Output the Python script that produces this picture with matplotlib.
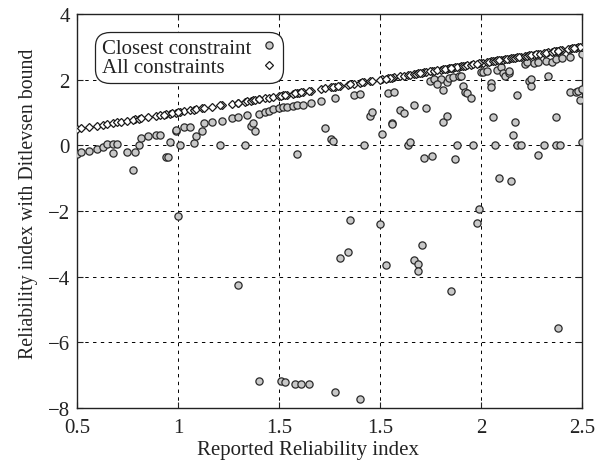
import matplotlib
matplotlib.use("Agg")
import matplotlib.pyplot as plt

# Reliability index with the Ditlevsen bound, closest constraint only
closest_x = [
    0.50, 0.52, 0.56, 0.60, 0.63, 0.65, 0.68, 0.70, 0.68, 0.75,
    0.79, 0.78, 0.81, 0.82, 0.85, 0.89, 0.91, 0.96, 0.94, 0.95,
    0.99, 0.99, 1.01, 1.03, 1.06, 1.08, 1.09, 1.12, 1.13, 1.17,
    1.22, 1.27, 1.30, 1.21, 1.33, 1.34, 1.36, 1.37, 1.38, 1.40,
    1.43, 1.45, 1.47, 1.50, 1.52, 1.54, 1.57, 1.59, 1.62, 1.66,
    1.71, 1.78, 1.59, 1.73, 1.76, 1.77,
    1.87, 1.90, 1.92, 1.95, 1.96, 2.01, 2.04, 2.07, 2.06, 2.06,
    2.10, 2.12, 2.14, 2.15, 2.17, 2.22, 2.26, 2.23, 2.25, 2.27,
    2.30, 2.28, 2.31, 2.33, 2.34, 2.36, 2.39, 2.40, 2.31, 2.33,
    2.37, 2.38, 2.41, 2.42, 2.43, 2.45, 2.46, 2.50, 2.51, 2.53,
    2.55, 2.55, 2.56, 2.57, 2.58, 2.60, 2.61, 2.62, 2.64, 2.64,
    2.59, 2.65, 2.66, 2.67, 2.68, 2.70, 2.68, 2.72, 2.73, 2.76,
    2.78, 2.74, 2.75, 2.75, 2.78, 2.81, 2.83, 2.82, 2.85, 2.87,
    2.90, 2.94, 2.87, 2.87, 2.89, 2.94, 2.97, 2.98, 3.00, 2.99,
    3.00, 3.00,
    1.00, 1.30, 1.80, 1.84, 1.85, 2.00, 2.03, 2.17, 2.19, 2.21,
    2.19, 2.35, 2.49, 2.48, 2.88, 1.40, 1.51, 1.53, 1.58, 1.61,
    1.65, 1.78, 1.90,
]
closest_y = [
    -0.27, -0.22, -0.17, -0.12, -0.06, 0.03, 0.03, 0.03, -0.25, -0.20,
    -0.20, -0.75, 0.00, 0.23, 0.28, 0.31, 0.31, 0.10, -0.37, -0.37,
    0.44, 0.47, 0.00, 0.54, 0.57, 0.06, 0.28, 0.44, 0.67, 0.71,
    0.74, 0.82, 0.85, 0.00, 0.00, 0.92, 0.59, 0.67, 0.44, 0.95,
    1.00, 1.05, 1.10, 1.13, 1.15, 1.16, 1.18, 1.21, 1.22, 1.28,
    1.35, 1.43, -0.27, 0.51, 0.18, 0.13,
    1.53, 1.56, 0.00, 0.89, 1.02, 0.34, 1.59, 1.63, 0.69, 0.64,
    1.08, 0.98, 0.00, 0.10, 1.22, -0.38, -0.33, 1.12, 1.96, 2.02,
    2.02, 1.86, 1.69, 1.91, 2.04, 2.07, 2.10, 2.12, 0.71, 0.89,
    -0.43, 0.00, 1.79, 1.63, 1.59, 1.43, 0.00, 2.24, 2.24, 2.27,
    1.89, 1.76, 0.85, 0.00, 2.30, 2.37, 2.20, 2.12, 2.20, 2.27,
    -0.99, -1.09, 0.31, 0.71, 0.00, 0.00, 1.53, 2.47, 2.53, 2.50,
    2.54, 1.96, 1.79, 2.02, -0.31, 0.00, 2.10, 2.57, 2.53, 2.63,
    2.65, 2.68, 0.85, 0.00, 0.00, 1.63, 1.63, 1.66, 1.71, 1.38,
    0.10, 2.78,
    -2.16, -4.27, -3.43, -3.26, -2.28, -2.40, -3.66, -3.48, -3.63, -3.05,
    -3.82, -4.45, -1.93, -2.36, -5.57, -7.18, -7.17, -7.20, -7.28, -7.28,
    -7.27, -7.50, -7.72,
]

# Reliability index with the Ditlevsen bound, all constraints
all_x = [
    0.50, 0.52, 0.56, 0.60, 0.63, 0.65, 0.68, 0.70, 0.72, 0.75,
    0.79, 0.78, 0.81, 0.82, 0.85, 0.89, 0.91, 0.96, 0.94, 0.93,
    0.99, 0.97, 1.01, 1.03, 1.06, 1.08, 1.09, 1.12, 1.13, 1.17,
    1.22, 1.27, 1.30, 1.21, 1.33, 1.34, 1.36, 1.37, 1.38, 1.40,
    1.43, 1.45, 1.47, 1.50, 1.52, 1.54, 1.57, 1.59, 1.62, 1.66,
    1.71, 1.78, 1.60, 1.73, 1.76, 1.77,
    1.87, 1.90, 1.92, 1.95, 1.96, 2.01, 2.04, 2.07, 2.06, 2.05,
    2.10, 2.12, 2.14, 2.15, 2.17, 2.22, 2.26, 2.23, 2.25, 2.27,
    2.30, 2.28, 2.31, 2.33, 2.34, 2.36, 2.39, 2.40, 2.32, 2.35,
    2.37, 2.38, 2.41, 2.42, 2.43, 2.45, 2.46, 2.50, 2.51, 2.53,
    2.55, 2.54, 2.56, 2.57, 2.58, 2.60, 2.61, 2.62, 2.64, 2.63,
    2.59, 2.65, 2.66, 2.67, 2.68, 2.70, 2.69, 2.72, 2.73, 2.76,
    2.78, 2.74, 2.75, 2.77, 2.79, 2.81, 2.83, 2.82, 2.85, 2.87,
    2.90, 2.94, 2.86, 2.88, 2.89, 2.93, 2.97, 2.98, 3.00, 2.99,
    2.95, 2.96,
    1.00, 1.30, 1.80, 1.84, 1.85, 2.00, 2.03, 2.18, 2.19, 2.21,
    2.20, 2.35, 2.49, 2.48, 2.88, 1.40, 1.51, 1.53, 1.58, 1.61,
    1.65, 1.79, 1.91,
]
all_y = [
    0.50, 0.52, 0.56, 0.60, 0.63, 0.65, 0.68, 0.70, 0.72, 0.75,
    0.79, 0.78, 0.81, 0.82, 0.85, 0.89, 0.91, 0.96, 0.94, 0.93,
    0.99, 0.97, 1.01, 1.03, 1.06, 1.08, 1.09, 1.12, 1.13, 1.17,
    1.22, 1.27, 1.30, 1.21, 1.33, 1.34, 1.36, 1.37, 1.38, 1.40,
    1.43, 1.45, 1.47, 1.50, 1.52, 1.54, 1.57, 1.59, 1.62, 1.66,
    1.71, 1.78, 1.60, 1.73, 1.76, 1.77,
    1.87, 1.90, 1.92, 1.95, 1.96, 2.01, 2.04, 2.07, 2.06, 2.05,
    2.10, 2.12, 2.14, 2.15, 2.17, 2.22, 2.26, 2.23, 2.25, 2.27,
    2.30, 2.28, 2.31, 2.33, 2.34, 2.36, 2.39, 2.40, 2.32, 2.35,
    2.37, 2.38, 2.41, 2.42, 2.43, 2.45, 2.46, 2.50, 2.51, 2.53,
    2.55, 2.54, 2.56, 2.57, 2.58, 2.60, 2.61, 2.62, 2.64, 2.63,
    2.59, 2.65, 2.66, 2.67, 2.68, 2.70, 2.69, 2.72, 2.73, 2.76,
    2.78, 2.74, 2.75, 2.77, 2.79, 2.81, 2.83, 2.82, 2.85, 2.87,
    2.90, 2.94, 2.86, 2.88, 2.89, 2.93, 2.97, 2.98, 3.00, 2.99,
    2.95, 2.96,
    1.00, 1.30, 1.80, 1.84, 1.85, 2.00, 2.03, 2.18, 2.19, 2.21,
    2.20, 2.35, 2.49, 2.48, 2.88, 1.40, 1.51, 1.53, 1.58, 1.61,
    1.65, 1.79, 1.91,
]

x_tick_pos = [0.5, 1.0, 1.5, 2.0, 2.5, 3.0]
x_tick_labels = ["0.5", "1", "1.5", "1.5", "2", "2.5"]
y_ticks = [-8, -6, -4, -2, 0, 2, 4]

plt.rcParams['font.family'] = ['Liberation Serif', 'DejaVu Serif']
text_color = '#222222'

fig = plt.figure(figsize=(6.05, 4.64), dpi=100)
ax = fig.add_axes([0.127, 0.1185, 0.835, 0.8495])

ax.plot(closest_x, closest_y, 'o', ls='none', ms=5.2, mfc='#c8c8c8',
        mec='#2a2a2a', mew=0.9, label='Closest constraint', zorder=3)
ax.plot(all_x, all_y, 'D', ls='none', ms=4.2, mfc='white',
        mec='#1a1a1a', mew=0.9, label='All constraints', zorder=4)

ax.set_xlim(0.5, 3.0)
ax.set_ylim(-8, 4)
ax.set_xticks(x_tick_pos)
ax.set_xticklabels(x_tick_labels)
ax.set_yticks(y_ticks)

ax.grid(True, color='black', lw=0.7, ls=(0, (3.5, 4.5)), zorder=1)
ax.set_axisbelow(True)
ax.tick_params(direction='in', top=True, right=True, length=4, width=0.8,
               labelsize=15, colors='#222222', labelcolor=text_color)
ax.tick_params(axis='x', pad=7)
ax.tick_params(axis='y', pad=5)
for sp in ax.spines.values():
    sp.set_linewidth(1.0)
    sp.set_color('#222222')

ax.set_xlabel('Reported Reliability index', fontsize=15, color=text_color)
ax.set_ylabel('Reliability index with Ditlevsen bound', fontsize=14.3,
              color=text_color)
ax.xaxis.set_label_coords(0.457, -0.081)
ax.yaxis.set_label_coords(-0.076, 0.52)

leg = ax.legend(loc='upper left', bbox_to_anchor=(0.045, 0.944), markerfirst=False,
                fancybox=True, framealpha=1, edgecolor='#222222', fontsize=15,
                handlelength=0.8, handletextpad=0.45, borderpad=0.1,
                labelspacing=0.0, borderaxespad=0)
leg.get_frame().set_linewidth(0.9)
leg.get_frame().set_boxstyle('round,pad=0.2,rounding_size=0.7')
for t in leg.get_texts():
    t.set_color(text_color)

# Left-align the legend labels while keeping the markers in one column
renderer = fig.canvas.get_renderer()
widths = [t.get_window_extent(renderer).width for t in leg.get_texts()]
widest = max(widths)
px_per_pt = fig.dpi / 72.0
for col in leg._legend_handle_box.get_children():
    for row, w in zip(col.get_children(), widths):
        row.sep = row.sep + (widest - w) / px_per_pt

fig.savefig('out.png', dpi=100)
